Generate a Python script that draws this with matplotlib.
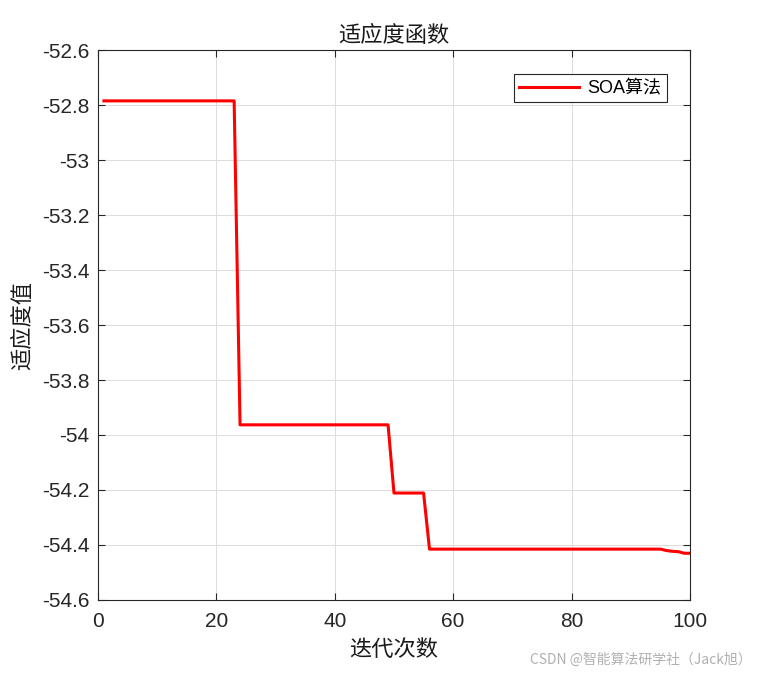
import numpy as np
import matplotlib
matplotlib.use("Agg")
import matplotlib.pyplot as plt

plt.rcParams["font.family"] = ["Liberation Sans", "Noto Sans CJK SC"]

# Fitness curve values (iteration -> best fitness)
iterations = np.arange(1, 101)
segment_ends = [23, 49, 55, 95, 96, 97, 98, 100]
segment_values = [-52.785, -53.963, -54.211, -54.415, -54.420, -54.423, -54.424, -54.430]

fitness = np.empty(len(iterations))
start = 1
for end, val in zip(segment_ends, segment_values):
    fitness[(iterations >= start) & (iterations <= end)] = val
    start = end + 1

x_ticks = [0, 20, 40, 60, 80, 100]
y_ticks = [-54.6, -54.4, -54.2, -54.0, -53.8, -53.6, -53.4, -53.2, -53.0, -52.8, -52.6]
y_tick_labels = ["-54.6", "-54.4", "-54.2", "-54", "-53.8", "-53.6", "-53.4",
                 "-53.2", "-53", "-52.8", "-52.6"]

fig = plt.figure(figsize=(7.63, 6.74), dpi=100)
ax = fig.add_axes([0.1284, 0.1098, 0.7759, 0.816])

ax.plot(iterations, fitness, color="#ff0000", linewidth=2.2, label="SOA算法")

ax.set_xlim(0, 100)
ax.set_ylim(-54.6, -52.6)
ax.set_xticks(x_ticks)
ax.set_yticks(y_ticks)
ax.set_yticklabels(y_tick_labels)
ax.tick_params(direction="in", top=True, right=True, labelsize=15,
               colors="#262626", length=5, width=0.8)
ax.tick_params(axis="x", pad=9)
ax.tick_params(axis="y", pad=6)
ax.grid(True, color="#dcdcdc", linewidth=0.7)
ax.set_axisbelow(True)
for sp in ax.spines.values():
    sp.set_color("#262626")
    sp.set_linewidth(0.8)

ax.set_title("适应度函数", fontsize=16, color="#1a1a1a", pad=6)
ax.set_xlabel("迭代次数", fontsize=16, color="#1a1a1a", labelpad=6)
ax.set_ylabel("适应度值", fontsize=16, color="#1a1a1a", labelpad=6)

leg = ax.legend(loc="upper right", fontsize=13, fancybox=False, framealpha=1,
                edgecolor="#262626", borderpad=0.3, handlelength=3.3,
                handletextpad=0.5, bbox_to_anchor=(0.9765, 0.972))
leg.get_frame().set_linewidth(0.8)

fig.text(0.985, 0.01, "CSDN @智能算法研学社（Jack旭）", ha="right", va="bottom",
         fontsize=10, color="#b0b0b0", family=["Noto Sans CJK SC", "DejaVu Sans"])

fig.savefig("out.png", dpi=100)
